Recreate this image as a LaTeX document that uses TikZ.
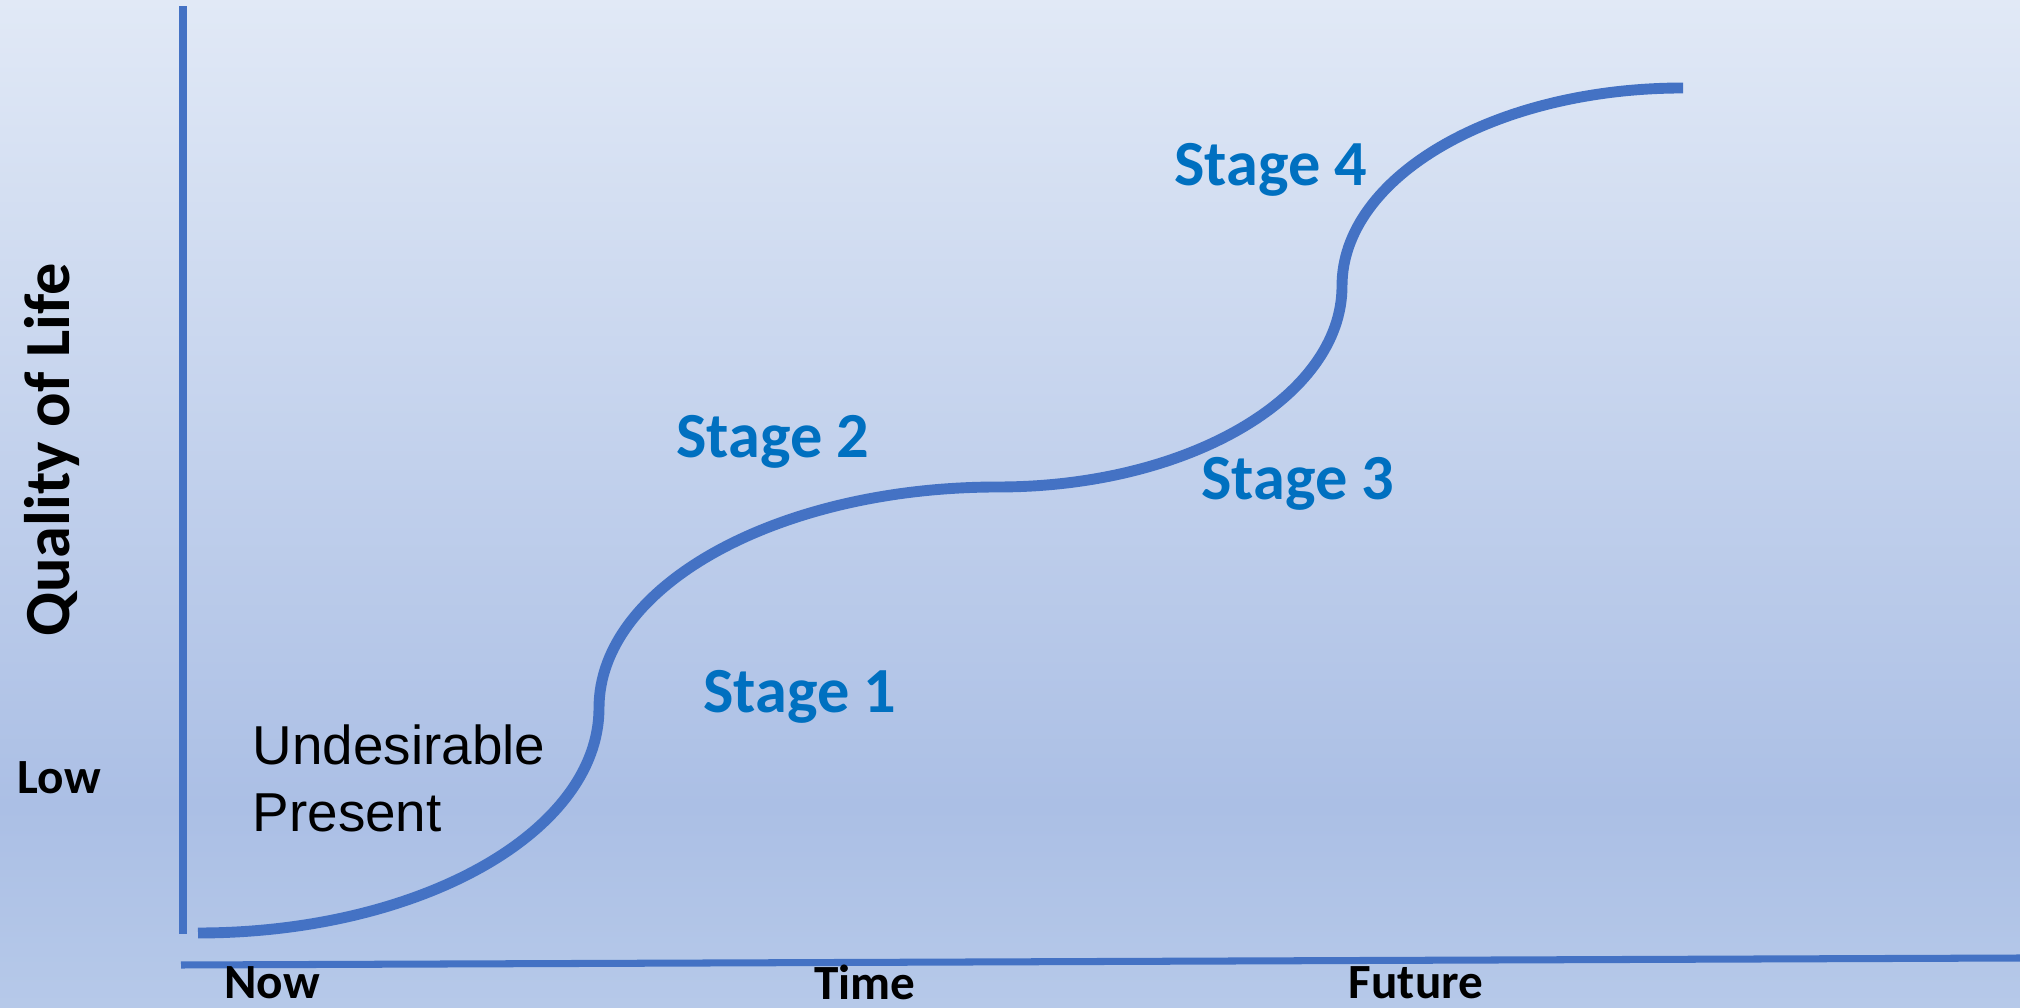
\documentclass[tikz,border=0pt]{standalone}
\usepackage{fontspec}
\setmainfont{Carlito}
\newfontfamily\arialfont{Liberation Sans}
\usetikzlibrary{positioning,calc}
\definecolor{stageblue}{HTML}{0070C0}
\definecolor{lineblue}{HTML}{4472C4}
\definecolor{bgtop}{HTML}{E1E9F6}
\definecolor{bgmid}{HTML}{ABBFE5}
\definecolor{bgbot}{HTML}{B6C9E9}
\pgfdeclareverticalshading{bgfade}{100bp}{color(0bp)=(bgbot); color(25bp)=(bgbot); color(35bp)=(bgmid); color(75bp)=(bgtop); color(100bp)=(bgtop)}
\tikzset{
axis/.style = {draw=lineblue, line width=2pt},
curve/.style = {draw=lineblue, line width=3.1pt},
stage/.style = {text=stageblue, font=\fontsize{18.3}{22}\selectfont\bfseries, inner sep=0pt, anchor=base},
axislabel/.style = {font=\fontsize{14}{17}\selectfont\bfseries, inner sep=0pt, anchor=base},
}

\begin{document}
\begin{tikzpicture}[x=0.1mm, y=0.1mm]
      % background
      \shade [shading=bgfade] (0,0) rectangle (2020,1007);
      \useasboundingbox (0,0) rectangle (2020,1007);
      % axes
      \coordinate (origin) at (183,73);
      \coordinate (ytop) at (183,1001);
      \coordinate (xleft) at (181,42);
      \coordinate (xright) at (2020,49);
      \draw [axis] (origin) -- (ytop);
      \draw [axis] (xleft) -- (xright);
      % s-curve, four quarter ellipses
      \coordinate (now) at (198,74);
      \draw [curve] (now)
         arc [start angle=-90, end angle=0, x radius=401, y radius=225] coordinate (bend1)
         arc [start angle=180, end angle=90, x radius=399, y radius=221] coordinate (bend2)
         arc [start angle=-90, end angle=0, x radius=344, y radius=201] coordinate (bend3)
         arc [start angle=180, end angle=90, x radius=341, y radius=198] coordinate (goal);
      % labels
      \node [axislabel, rotate=90, font=\fontsize{18.3}{22}\selectfont\bfseries] (quality) at (69,557) {Quality of Life};
      \node [axislabel, anchor=base west] (low) at (17,213) {Low};
      \node [axislabel] (nowlabel) at (272,9) {Now};
      \node [axislabel] (timelabel) at (865,8) {Time};
      \node [axislabel] (futurelabel) at (1416,9) {Future};
      \node [anchor=base west, align=left, inner sep=0pt, font=\arialfont\fontsize{15.6}{19.1}\selectfont] (present) at (252,175) {Undesirable\\Present};
      \node [stage] (stage1) at (800,294) {Stage 1};
      \node [stage] (stage2) at (773,549) {Stage 2};
      \node [stage] (stage3) at (1298,507) {Stage 3};
      \node [stage] (stage4) at (1271,821) {Stage 4};
\end{tikzpicture}
\end{document}
